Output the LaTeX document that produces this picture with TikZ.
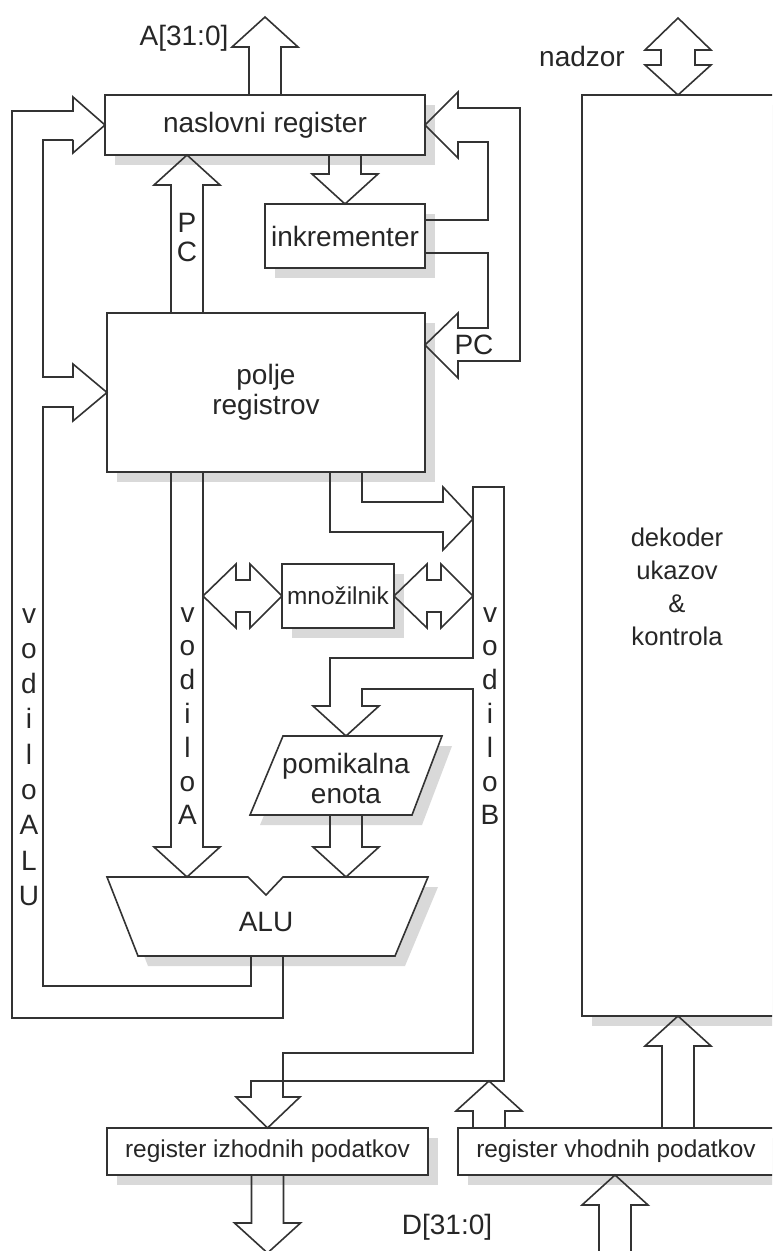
\documentclass[tikz,border=0pt]{standalone}
\usepackage{fontspec}
\setmainfont{Liberation Sans}
\usetikzlibrary{calc,shadows}

\tikzset{
  unit/.style={draw=black!80, line width=0.8pt, fill=white,
    drop shadow={shadow xshift=5pt, shadow yshift=-5pt, fill=black!15, opacity=1}},
  box/.style={unit, inner sep=0pt, outer sep=0pt, text=black!85,
    font=\fontsize{14}{15}\selectfont},
  bus/.style={draw=black!80, line width=0.8pt, line join=miter},
  lbl/.style={text=black!85, inner sep=0pt, font=\fontsize{14}{17}\selectfont},
  smalltxt/.style={font=\fontsize{12.2}{15}\selectfont},
}

% straight vertical bus arrow, from #1 to its tip #2
\newcommand{\vbus}[2]{%
  \draw[bus] let \p1=(#1), \p2=(#2), \n1={(\y2>\y1) ? \y2-15pt : \y2+15pt} in
    (\x1-8pt,\y1) -- (\x1-8pt,\n1) -- (\x1-16.5pt,\n1) -- (\x1,\y2)
    -- (\x1+16.5pt,\n1) -- (\x1+8pt,\n1) -- (\x1+8pt,\y1);}

% horizontal double bus arrow, left tip #1, right tip #2
\newcommand{\hdbl}[2]{%
  \draw[bus] let \p1=(#1), \p2=(#2) in
    (\x1,\y1) -- (\x1+16.5pt,\y1+16pt) -- (\x1+16.5pt,\y1+8pt) -- (\x2-16pt,\y1+8pt)
    -- (\x2-16pt,\y1+16pt) -- (\x2,\y1) -- (\x2-16pt,\y1-16pt) -- (\x2-16pt,\y1-8pt)
    -- (\x1+16.5pt,\y1-8pt) -- (\x1+16.5pt,\y1-16pt) -- cycle;}

\begin{document}
\begin{tikzpicture}[x=0.5pt, y=-0.5pt]

% --- Frame ---
\useasboundingbox (0,0) rectangle (772,1251);
\clip (0,0) rectangle (772,1251);

% --- Units ---
\node[box, minimum width=160pt, minimum height=30pt] (nasl) at (265,125) {naslovni register};
\node[box, minimum width=80pt, minimum height=32pt] (inkr) at (345,236) {inkrementer};
\node[box, minimum width=159pt, minimum height=79.5pt, align=center] (polje) at (266,392.5) {polje\\registrov};
\node[box, smalltxt, minimum width=56pt, minimum height=32pt] (mnoz) at (338,596) {množilnik};
\node[box, smalltxt, minimum width=160.5pt, minimum height=23.5pt] (izh) at (267.5,1151.5) {register izhodnih podatkov};
\node[box, smalltxt, minimum width=158pt, minimum height=23.5pt] (vhod) at (616,1151.5) {register vhodnih podatkov};
\node[box, minimum width=96pt, minimum height=460.5pt] (dek) at (678,555.5) {};
\node[lbl, align=center, font=\fontsize{12.8}{16.5}\selectfont] (dektxt) at (677,587) {dekoder\\ukazov\\\&\\kontrola};

% --- Shifter and ALU ---
\draw[unit] (250,815) -- (283,736) -- (442,736) -- (412,815) -- cycle;
\node[lbl, align=center, font=\fontsize{14}{15}\selectfont] (pomik) at (346,778) {pomikalna\\enota};
\coordinate (pomikbot) at (346,815);

\draw[unit] (107,877) -- (248,877) -- (266,895) -- (283,877) -- (428,877) -- (395,956) -- (138,956) -- cycle;
\node[lbl] (alu) at (266,922) {ALU};
\coordinate (alutop) at (266,877);

% --- Free ends of the buses ---
\coordinate (atip) at (266,17);
\coordinate (ntip) at (680,18);
\coordinate (dout) at (267,1253);
\coordinate (din) at (615,1253);
\coordinate (vodA) at (203,472);
\coordinate (vodB) at (473,487);
\coordinate (vodBbot) at (489,1081);

% --- Straight buses ---
\vbus{nasl.north}{atip}
\vbus{inkr.north |- nasl.south}{inkr.north}
\vbus{$(polje.north west)+(80,0)$}{nasl.south}
\vbus{$(polje.south west)+(80,0)$}{alutop}
\vbus{pomikbot}{alutop}
\vbus{izh.south}{dout}
\vbus{$(vhod.north west)+(31,0)$}{vodBbot}
\vbus{vhod.north -| dek.south}{dek.south}
\vbus{din}{vhod.south}

\hdbl{mnoz.west -| vodA}{mnoz.west}
\hdbl{mnoz.east}{mnoz.east -| vodB}

% nadzor, both ways
\draw[bus] let \p1=(dek.north), \p2=(ntip) in
  (\x1,\y1) -- (\x1+16.5pt,\y1+15pt) -- (\x1+8.5pt,\y1+15pt) -- (\x1+8.5pt,\y2-16pt)
  -- (\x1+16.5pt,\y2-16pt) -- (\x1,\y2) -- (\x1-16.5pt,\y2-16pt) -- (\x1-8.5pt,\y2-16pt)
  -- (\x1-8.5pt,\y1+15pt) -- (\x1-16.5pt,\y1+15pt) -- cycle;

% --- vodilo ALU ---
\draw[bus] (73,140) -- (43,140) -- (43,377) -- (73,377) -- (73,364) -- (polje.west)
  -- (73,421) -- (73,407) -- (43,407) -- (43,986) -- (251,986) -- (251,956);
\draw[bus] (283,956) -- (283,1018) -- (12,1018) -- (12,111) -- (73,111) -- (73,97)
  -- (nasl.west) -- (73,153) -- (73,140);

% --- PC back from the incrementer ---
\draw[bus] (425,220) -- (488,220) -- (488,142) -- (458,142) -- (458,158) -- (nasl.east)
  -- (458,92) -- (458,108) -- (520,108) -- (520,361) -- (458,361) -- (458,378)
  -- ($(polje.north east)+(0,32)$) -- (458,313) -- (458,328) -- (488,328) -- (488,253) -- (425,253);

% --- polje registrov to vodilo B ---
\draw[bus] (362,472) -- (362,502) -- (443,502) -- (443,487) -- (473,519)
  -- (443,550) -- (443,532) -- (330,532) -- (330,472);

% --- vodilo B ---
\draw[bus] (vodB) -- (504,487) -- (504,1081) -- (251,1081) -- (251,1097) -- (236,1097)
  -- (izh.north) -- (300,1097) -- (283,1097) -- (283,1053) -- (473,1053) -- (473,689)
  -- (362,689) -- (362,706) -- (379,706) -- (346,736) -- (313,706) -- (330,706)
  -- (330,658) -- (473,658) -- cycle;

% --- Labels ---
\node[lbl] (alab) at (184,38) {A[31:0]};
\node[lbl] (nlab) at (582,56) {nadzor};
\node[lbl] (dlab) at (447,1227) {D[31:0]};
\node[lbl] (pcr) at (474,345) {PC};
\node[lbl, anchor=base] (pcp) at (187,233) {P};
\node[lbl, anchor=base] (pcc) at (187,262) {C};

\foreach \ch [count=\i from 0] in {v,o,d,i,l,o,A,L,U}
  \node[lbl, anchor=base] (valu\i) at (29, 623+35.3*\i) {\ch};
\foreach \ch [count=\i from 0] in {v,o,d,i,l,o,A}
  \node[lbl, anchor=base] (va\i) at (187.5, 622+33.8*\i) {\ch};
\foreach \ch [count=\i from 0] in {v,o,d,i,l,o,B}
  \node[lbl, anchor=base] (vb\i) at (490, 622+33.8*\i) {\ch};

\end{tikzpicture}
\end{document}
